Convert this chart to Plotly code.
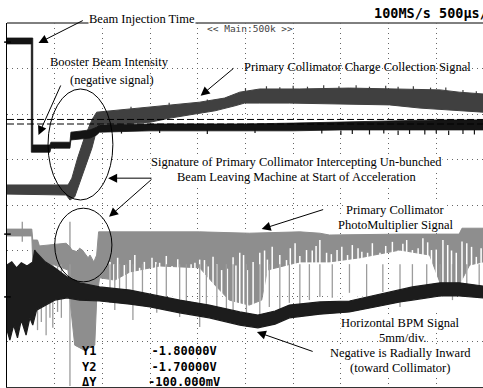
import plotly.graph_objects as go

# Horizontal: time in ms (0.5 ms/div, 10 div). Vertical: graticule divisions (8 div, 0 = centre).

# Booster beam intensity (negative signal), black
booster_t_top = [0, 0.27, 0.27, 0.45, 0.46, 0.66, 0.67, 0.87, 0.94, 0.97, 1.5, 2.0, 2.5, 3.0, 3.5, 4.0, 4.5, 4.99]
booster_v_top = [3.67, 3.67, 1.32, 1.32, 1.38, 1.38, 1.60, 1.65, 1.71, 1.76, 1.78, 1.78, 1.78, 1.80, 1.82, 1.85, 1.87, 1.87]
booster_t_bot = [0, 0.255, 0.255, 0.45, 0.46, 0.66, 0.67, 0.87, 0.94, 0.97, 1.5, 2.0, 2.5, 3.0, 3.5, 4.0, 4.5, 4.99]
booster_v_bot = [3.54, 3.54, 1.16, 1.16, 1.25, 1.25, 1.43, 1.47, 1.54, 1.60, 1.63, 1.63, 1.63, 1.63, 1.65, 1.65, 1.65, 1.65]
# short noise excursions below the booster trace
booster_fringe_t = [1.2, 1.6, 2.1, 2.6, 3.3, 3.5, 3.62, 3.8, 3.95, 4.1, 4.22, 4.38, 4.5, 4.63, 4.78, 4.9]
booster_fringe_low = [1.57, 1.58, 1.56, 1.58, 1.57, 1.54, 1.56, 1.55, 1.57, 1.54, 1.56, 1.55, 1.57, 1.54, 1.56, 1.55]

# Primary collimator charge collection signal, dark grey
charge_t_top = [0, 0.64, 0.68, 0.74, 0.81, 0.89, 0.94, 1.18, 1.50, 1.81, 2.02, 2.28, 2.44, 2.65, 3.07, 3.59, 4.12, 4.54, 4.74, 4.99]
charge_v_top = [0.44, 0.44, 0.59, 1.03, 1.47, 1.87, 2.04, 2.09, 2.15, 2.22, 2.26, 2.35, 2.48, 2.55, 2.55, 2.57, 2.55, 2.53, 2.48, 2.44]
charge_t_bot = [0, 0.62, 0.66, 0.71, 0.76, 0.81, 0.89, 0.94, 0.97, 1.18, 1.50, 1.71, 1.97, 2.18, 2.39, 2.49, 2.65, 2.96, 3.28, 3.59, 4.01, 4.33, 4.64, 4.99]
charge_v_bot = [0.24, 0.22, 0.11, 0.18, 0.44, 0.77, 1.25, 1.65, 1.78, 1.78, 1.82, 1.91, 2.00, 2.07, 2.18, 2.24, 2.24, 2.24, 2.24, 2.22, 2.20, 2.13, 2.09, 2.04]
# short noise excursions above the charge trace
charge_fringe_t = [1.3, 1.7, 2.1, 2.5, 2.72, 2.86, 3.0, 3.15, 3.32, 3.48, 3.66, 3.8, 3.97, 4.1, 4.26, 4.44, 4.6, 4.78, 4.92]
charge_fringe_high = [2.16, 2.25, 2.32, 2.57, 2.61, 2.59, 2.62, 2.60, 2.63, 2.61, 2.63, 2.60, 2.62, 2.60, 2.61, 2.58, 2.58, 2.53, 2.50]

# Primary collimator photomultiplier signal, light grey body
pm_t_top = [0, 0.26, 0.27, 0.32, 0.34, 0.50, 0.62, 0.66, 0.68, 0.74, 0.76, 0.79, 0.85, 0.87, 0.91, 0.94, 0.96, 1.50, 2.02, 2.54, 3.07, 3.28, 3.38, 4.12, 4.74, 4.77, 4.99]
pm_v_top = [-0.53, -0.53, -0.77, -0.77, -0.90, -0.86, -0.84, -0.92, -0.99, -1.03, -0.95, -0.99, -1.16, -1.10, -1.25, -1.10, -0.59, -0.59, -0.59, -0.62, -0.59, -0.62, -0.66, -0.64, -0.64, -0.51, -0.51]
pm_t_bot = [0, 0.26, 0.27, 0.34, 0.50, 0.64, 0.66, 0.71, 0.81, 0.92, 0.94, 0.97, 1.13, 1.29, 1.60, 2.02, 2.18, 2.33, 2.54, 2.67, 2.73, 3.07, 3.38, 3.70, 4.12, 4.43, 4.54, 4.74, 4.85, 4.99]
pm_v_bot = [-0.68, -0.68, -1.25, -1.25, -1.32, -1.43, -2.09, -3.08, -3.19, -3.08, -2.09, -1.60, -1.65, -1.47, -1.34, -1.38, -1.76, -2.09, -2.20, -2.09, -1.43, -1.25, -1.25, -1.16, -0.99, -1.10, -1.71, -1.76, -1.32, -1.25]

# Photomultiplier dropouts (gaps in the grey body): time and upper end
pm_gap_t = [1.08, 1.12, 1.16, 1.23, 1.29, 1.34, 1.39, 1.44, 1.52, 1.56, 1.60, 1.67, 1.73, 1.79, 1.84, 1.88,
            1.93, 1.97, 2.02, 2.07, 2.11, 2.16, 2.20, 2.25, 2.31, 2.37, 2.40, 2.44, 2.48, 2.52, 2.58, 2.65,
            2.70, 2.73, 2.78, 2.86, 2.93, 2.97, 3.02, 3.07, 3.14, 3.20, 3.24, 3.28, 3.35, 3.40, 3.46, 3.51,
            3.57, 3.62, 3.68, 3.72, 3.78, 3.83, 3.91, 3.97, 4.04, 4.10, 4.15, 4.19, 4.25, 4.31, 4.36, 4.41,
            4.45, 4.50, 4.57, 4.62, 4.66, 4.71, 4.77, 4.82, 4.87, 4.92, 4.97]
pm_gap_top = [-1.25, -1.30, -1.16, -1.32, -1.21, -1.10, -1.38, -1.25, -1.16, -1.25, -1.27, -1.12, -1.34, -1.19,
              -1.45, -1.58, -1.30, -1.27, -1.20, -1.21, -1.35, -1.14, -1.30, -1.43, -1.40, -1.15, -1.33, -1.05,
              -1.10, -1.43, -1.25, -1.05, -1.00, -1.20, -0.92, -1.10, -1.21, -0.95, -0.84, -1.12, -0.99, -1.00,
              -0.90, -0.77, -1.05, -1.08, -0.99, -0.92, -1.10, -0.88, -0.95, -1.03, -1.05, -0.84, -1.05, -0.90,
              -0.81, -1.00, -0.85, -0.77, -0.99, -0.95, -0.73, -0.82, -0.99, -0.98, -0.77, -0.88, -1.00, -1.05,
              -0.80, -0.84, -0.92, -1.14, -0.95]
pm_gap_floor = -2.35

# Photomultiplier downward bursts: time and lower end
pm_burst_t = [0.32, 0.36, 0.41, 0.45, 0.48, 0.53, 0.57, 0.66, 1.08, 1.13, 1.18, 1.25, 1.32, 1.42, 1.57, 1.67, 1.81,
              1.88, 2.02, 2.09, 2.20, 2.30, 2.37, 2.51, 2.65, 2.75, 2.86, 2.96, 3.07, 3.17, 3.28, 3.41, 3.59, 3.77,
              3.94, 4.12, 4.25, 4.40, 4.54, 4.67, 4.82, 4.95]
pm_burst_low = [-2.75, -2.57, -2.86, -2.48, -2.70, -2.35, -2.48, -3.98, -2.15, -2.31, -2.09, -2.02, -2.53, -2.09,
                -2.37, -2.31, -2.46, -2.24, -2.68, -2.46, -2.24, -2.46, -2.57, -2.68, -2.53, -2.24, -2.42, -2.15,
                -2.31, -2.09, -2.02, -2.04, -1.93, -2.02, -1.91, -2.24, -1.93, -2.04, -2.02, -2.09, -1.98, -1.93]
pm_burst_root = -1.3

# Photomultiplier upward bursts: time, lower and upper end
pm_up_t = [0.16, 0.66]
pm_up_low = [-0.81, -0.99]
pm_up_high = [-0.37, -0.37]

# Horizontal BPM signal, black
bpm_t_top = [0, 0.05, 0.10, 0.15, 0.21, 0.27, 0.29, 0.31, 0.40, 0.50, 0.63, 0.76, 0.97, 1.29, 1.50, 1.81, 2.12,
             2.44, 2.63, 2.81, 2.96, 3.28, 3.59, 3.91, 4.12, 4.25, 4.54, 4.74, 4.99]
bpm_v_top = [-1.32, -1.25, -1.38, -1.27, -1.34, -1.25, -0.99, -1.05, -1.25, -1.38, -1.58, -1.71, -1.80, -1.87,
             -1.96, -2.09, -2.20, -2.35, -2.42, -2.33, -2.20, -2.13, -2.11, -1.96, -1.87, -1.80, -1.71, -1.71, -1.78]
bpm_t_bot = [0, 0.03, 0.07, 0.11, 0.15, 0.20, 0.24, 0.27, 0.31, 0.40, 0.50, 0.63, 0.76, 0.97, 1.29, 1.50, 1.81,
             2.12, 2.44, 2.63, 2.81, 2.96, 3.28, 3.59, 3.91, 4.12, 4.25, 4.54, 4.74, 4.99]
bpm_v_bot = [-2.75, -2.97, -2.64, -2.92, -2.53, -2.86, -2.48, -2.64, -2.31, -2.20, -2.09, -2.04, -2.09, -2.11,
             -2.18, -2.24, -2.37, -2.48, -2.64, -2.70, -2.62, -2.48, -2.40, -2.35, -2.22, -2.13, -2.09, -2.00,
             -2.00, -2.04]

# Channel 1 scale and Y cursors (volts)
ch1_ground_div = 3.58
ch1_volts_per_div = 1.0
cursor_names = ["Y1", "Y2"]
cursor_volts = [-1.8, -1.7]

# channel ground markers on the left edge (divisions)
ground_markers = [ch1_ground_div, -0.64, -2.02]

T_END = 4.99
BLACK = "#141414"


def envelope(t_top, v_top, t_bot, v_bot):
    xs = list(t_top) + list(t_bot)[::-1] + [t_top[0]]
    ys = list(v_top) + list(v_bot)[::-1] + [v_top[0]]
    return xs, ys


def hairlines(ts, lows, highs):
    xs, ys = [], []
    for t, a, b in zip(ts, lows, highs):
        xs += [t, t, None]
        ys += [a, b, None]
    return xs, ys


def band(xs, ys, color, width=1.0):
    return go.Scatter(x=xs, y=ys, mode="lines", fill="toself", fillcolor=color,
                      line=dict(color=color, width=width), hoverinfo="skip", showlegend=False)


def lines(xs, ys, color, width):
    return go.Scatter(x=xs, y=ys, mode="lines", line=dict(color=color, width=width),
                      hoverinfo="skip", showlegend=False, connectgaps=False)


fig = go.Figure()

# photomultiplier body, dropouts, bursts
fig.add_trace(band(*envelope(pm_t_top, pm_v_top, pm_t_bot, pm_v_bot), "#8e8e8e"))
fig.add_trace(lines(*hairlines(pm_gap_t, [pm_gap_floor] * len(pm_gap_t), pm_gap_top), "white", 1.5))
fig.add_trace(lines(*hairlines(pm_burst_t, [pm_burst_root] * len(pm_burst_t), pm_burst_low), "#9c9c9c", 1.3))
fig.add_trace(lines(*hairlines(pm_up_t, pm_up_low, pm_up_high), "#8e8e8e", 1.2))

# charge collection
fig.add_trace(band(*envelope(charge_t_top, charge_v_top, charge_t_bot, charge_v_bot), "#404040"))
fig.add_trace(lines(*hairlines(charge_fringe_t, [v - 0.1 for v in charge_fringe_high], charge_fringe_high),
                    "#404040", 1.2))

# booster intensity
fig.add_trace(band(*envelope(booster_t_top, booster_v_top, booster_t_bot, booster_v_bot), BLACK, 0.8))
fig.add_trace(lines(*hairlines(booster_fringe_t, booster_fringe_low, [v + 0.1 for v in booster_fringe_low]),
                    BLACK, 1.2))

# horizontal BPM
fig.add_trace(band(*envelope(bpm_t_top, bpm_v_top, bpm_t_bot, bpm_v_bot), "#1c1c1c", 1.2))

# Y cursors, placed on channel 1's scale
for v in cursor_volts:
    lvl = ch1_ground_div + v / ch1_volts_per_div
    fig.add_trace(go.Scatter(x=[0, T_END], y=[lvl, lvl], mode="lines",
                             line=dict(color="black", width=1, dash="7px,3px"),
                             hoverinfo="skip", showlegend=False))

serif = dict(family="Liberation Serif, Times New Roman, serif", size=12.5, color="black")

ann = []


def label(x, y, text, bg=None, font=serif, xanchor="center", ref="x"):
    d = dict(x=x, y=y, xref=ref, yref=ref.replace("x", "y"), text=text, showarrow=False, font=font,
             xanchor=xanchor, yanchor="middle", borderpad=0)
    if bg:
        d["bgcolor"] = bg
    ann.append(d)


def arrow(tail, tip):
    ann.append(dict(x=tip[0], y=tip[1], ax=tail[0], ay=tail[1], xref="x", yref="y",
                    axref="x", ayref="y", text="", showarrow=True, arrowhead=2,
                    arrowsize=1.8, arrowwidth=1, arrowcolor="black", standoff=0))


label(0.284, 1.011, "Beam Injection Time", bg="white", ref="paper")
arrow((0.81, 4.07), (0.33, 3.56))

label(1.07, 3.14, "Booster Beam Intensity")
label(1.10, 2.75, "(negative signal)")
arrow((0.57, 2.66), (0.33, 1.54))

label(3.67, 3.03, "Primary Collimator Charge Collection Signal")
arrow((2.39, 3.03), (2.03, 2.40))

label(3.03, 0.95, "Signature of Primary Collimator Intercepting Un-bunched", bg="white")
label(3.04, 0.62, "Beam Leaving Machine at Start of Acceleration", bg="white")
arrow((1.53, 0.59), (1.06, 0.59))
arrow((1.53, 0.59), (1.07, -0.26))

label(4.07, -0.11, "Primary Collimator", bg="white")
label(4.07, -0.44, "PhotoMultiplier Signal", bg="white")
arrow((3.33, -0.09), (2.67, -0.53))

label(4.13, -2.59, "Horizontal BPM Signal", bg="white")
label(4.15, -2.92, "5mm/div.", bg="white")
label(4.13, -3.25, "Negative is Radially Inward", bg="white")
label(4.12, -3.58, "(toward Collimator)", bg="white")
arrow((3.22, -3.23), (2.62, -2.79))

# cursor readout block
delta_mv = (cursor_volts[0] - cursor_volts[1]) * 1000
names = cursor_names + ["\u0394Y"]
values = ["%.5fV" % v for v in cursor_volts] + ["%.3fmV" % delta_mv]
readout_font = dict(family="DejaVu Sans Mono, monospace", size=12, color="black")
label(0.78, -3.55, "<b>" + "<br>".join(names) + "</b>", font=readout_font, xanchor="left")
label(1.47, -3.55, "<b>" + "<br>".join(values) + "</b>", font=readout_font, xanchor="left")

label(2.09, 3.89, "&lt;&lt; Main:500k &gt;&gt;",
      font=dict(family="DejaVu Sans Mono, monospace", size=9.5, color="#444"), xanchor="left")

ann.append(dict(x=0.767, y=1.027, xref="paper", yref="paper", text="<b>100MS/s 500\u00b5s/div</b>",
                showarrow=False, xanchor="left", yanchor="middle",
                font=dict(family="DejaVu Sans Mono, monospace", size=13.5, color="black")))

shapes = [
    dict(type="line", xref="paper", yref="paper", x0=0, x1=1, y0=1, y1=1,
         line=dict(color="black", width=1), layer="below"),
    dict(type="circle", xref="x", yref="y", x0=0.43, x1=1.11, y0=0.11, y1=2.55,
         line=dict(color="black", width=1)),
    dict(type="circle", xref="x", yref="y", x0=0.50, x1=1.10, y0=-1.69, y1=-0.07,
         line=dict(color="black", width=1)),
]
for lvl in ground_markers:
    shapes.append(dict(type="line", xref="paper", yref="y", x0=-0.006, x1=0.008, y0=lvl, y1=lvl,
                       line=dict(color="black", width=1.5)))

fig.update_layout(
    width=483, height=388,
    margin=dict(l=7, r=0, t=23, b=1),
    paper_bgcolor="white", plot_bgcolor="white",
    annotations=ann, shapes=shapes,
    xaxis=dict(range=[0, T_END], tick0=0, dtick=0.5, showgrid=True, gridcolor="#666",
               griddash="1px,4px", gridwidth=1, showticklabels=False, ticks="", zeroline=False,
               showline=True, linecolor="#333", linewidth=1.5),
    yaxis=dict(range=[-4, 4], tick0=0, dtick=1, showgrid=True, gridcolor="#666",
               griddash="1px,4px", gridwidth=1, showticklabels=False, ticks="", zeroline=False,
               showline=True, linecolor="black", linewidth=1),
)

fig.write_html("out.html")
